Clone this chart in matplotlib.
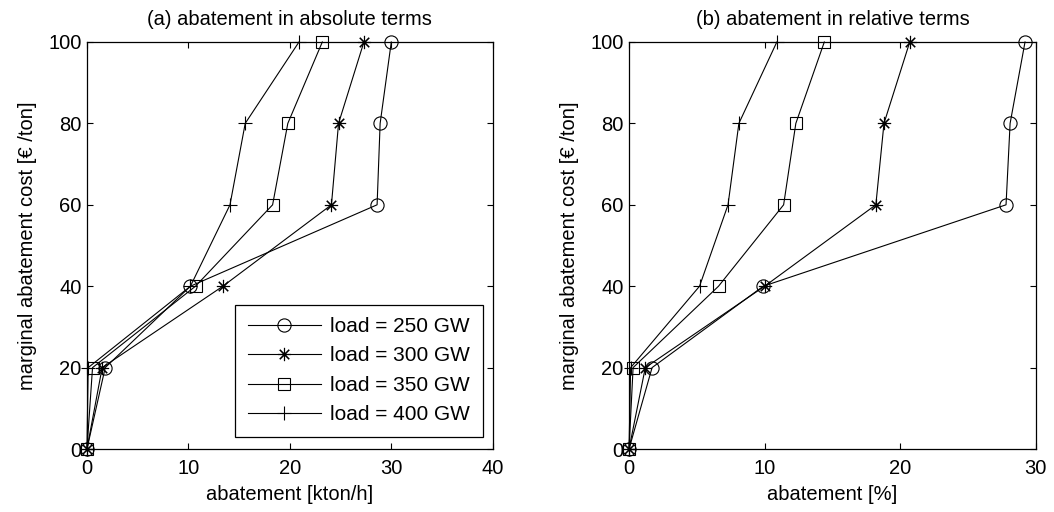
import numpy as np
import matplotlib
matplotlib.use('Agg')
import matplotlib.pyplot as plt

plt.rcParams['font.family'] = ['Liberation Sans', 'DejaVu Sans']

# marginal abatement cost levels [EUR/ton]
cost = [0, 20, 40, 60, 80, 100]
loads = ['load = 250 GW', 'load = 300 GW', 'load = 350 GW', 'load = 400 GW']

# (a) abatement in absolute terms [kton/h]
abs_250 = [0, 1.8, 10.2, 28.6, 28.9, 30.0]
abs_300 = [0, 1.5, 13.4, 24.1, 24.8, 27.3]
abs_350 = [0, 0.55, 10.7, 18.3, 19.8, 23.2]
abs_400 = [0, 0.12, 10.2, 14.1, 15.6, 20.9]

# (b) abatement in relative terms [%]
rel_250 = [0, 1.7, 9.9, 27.8, 28.1, 29.2]
rel_300 = [0, 1.2, 10.0, 18.2, 18.8, 20.7]
rel_350 = [0, 0.3, 6.6, 11.4, 12.3, 14.4]
rel_400 = [0, 0.12, 5.2, 7.3, 8.1, 10.9]

styles = [dict(marker='o', ms=9.5), dict(marker=(8, 2, 0), ms=9.5),
          dict(marker='s', ms=8), dict(marker='+', ms=10)]
fs = 14.5

fig = plt.figure(figsize=(10.54, 5.12), dpi=100)
ax1 = fig.add_axes([0.0825, 0.123, 0.385, 0.795])
ax2 = fig.add_axes([0.5968, 0.123, 0.386, 0.795])

def draw(ax, series, xmax, xlabel, title):
    for y, st, lab in zip(series, styles, loads):
        ax.plot(y, cost, color='k', lw=0.8, mfc='none', mec='k', mew=0.8,
                label=lab, clip_on=False, **st)
    ax.set_xlim(0, xmax)
    ax.set_ylim(0, 100)
    ax.set_xticks(np.arange(0, xmax + 1, 10))
    ax.set_yticks(np.arange(0, 101, 20))
    ax.tick_params(direction='in', top=True, right=True, labelsize=fs,
                   length=4, width=0.8)
    ax.tick_params(axis='y', pad=4)
    ax.tick_params(axis='x', pad=7)
    for s in ax.spines.values():
        s.set_linewidth(0.9)
    ax.set_xlabel(xlabel, fontsize=fs, labelpad=5)
    ax.set_ylabel('marginal abatement cost [\u20ac /ton]', fontsize=fs, labelpad=8)
    ax.set_title(title, fontsize=fs, pad=12)

draw(ax1, [abs_250, abs_300, abs_350, abs_400], 40, 'abatement [kton/h]',
     '(a) abatement in absolute terms')
draw(ax2, [rel_250, rel_300, rel_350, rel_400], 30, 'abatement [%]',
     '(b) abatement in relative terms')

leg = ax1.legend(loc='lower right', bbox_to_anchor=(0.975, 0.03), fontsize=15,
                 fancybox=False, edgecolor='k', framealpha=1, handlelength=3.5,
                 handletextpad=0.45, labelspacing=0.5, borderpad=0.6,
                 borderaxespad=0)
leg.get_frame().set_linewidth(0.9)

fig.savefig('out.png', dpi=100)
